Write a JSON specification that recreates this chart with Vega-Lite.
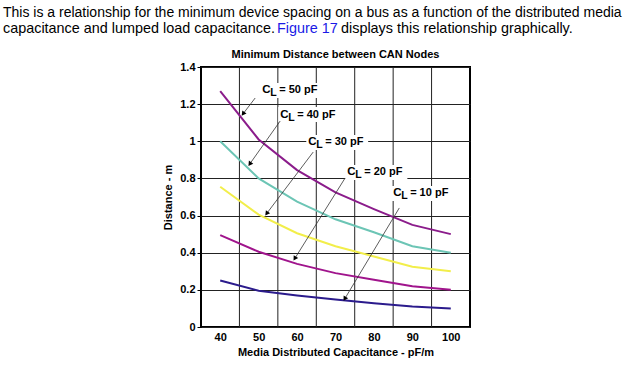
{
  "$schema": "https://vega.github.io/schema/vega-lite/v6.json",
  "autosize": {"type": "none"},
  "padding": {"left": 201, "top": 67, "right": 170, "bottom": 38},
  "width": 269,
  "height": 260,
  "background": "white",
  "config": {
    "font": "Liberation Sans",
    "view": {"stroke": "black", "strokeWidth": 2},
    "axisX": {
      "grid": false,
      "ticks": false,
      "domain": false,
      "labelFont": "Liberation Sans",
      "labelFontSize": 11,
      "labelFontWeight": "bold",
      "labelColor": "black",
      "labelPadding": 4,
      "labelOverlap": false,
      "titleFont": "Liberation Sans",
      "titleFontSize": 11,
      "titleFontWeight": "bold",
      "titleColor": "black",
      "titlePadding": 4
    },
    "axisY": {
      "grid": true,
      "gridColor": "#222222",
      "gridOpacity": 1,
      "gridWidth": 1,
      "ticks": true,
      "tickSize": 4,
      "tickColor": "black",
      "tickWidth": 1,
      "domain": false,
      "labelFont": "Liberation Sans",
      "labelFontSize": 11,
      "labelFontWeight": "bold",
      "labelColor": "black",
      "labelPadding": 2,
      "labelOverlap": false,
      "titleFont": "Liberation Sans",
      "titleFontSize": 11,
      "titleFontWeight": "bold",
      "titleColor": "black",
      "titlePadding": 6
    }
  },
  "datasets": {
    "curves": [
      {"cl": "50 pF", "cd": 40, "dist": 1.27},
      {"cl": "50 pF", "cd": 50, "dist": 1.01},
      {"cl": "50 pF", "cd": 60, "dist": 0.845},
      {"cl": "50 pF", "cd": 70, "dist": 0.725},
      {"cl": "50 pF", "cd": 80, "dist": 0.635},
      {"cl": "50 pF", "cd": 90, "dist": 0.55},
      {"cl": "50 pF", "cd": 100, "dist": 0.5},
      {"cl": "40 pF", "cd": 40, "dist": 1.0},
      {"cl": "40 pF", "cd": 50, "dist": 0.8},
      {"cl": "40 pF", "cd": 60, "dist": 0.675},
      {"cl": "40 pF", "cd": 70, "dist": 0.58},
      {"cl": "40 pF", "cd": 80, "dist": 0.51},
      {"cl": "40 pF", "cd": 90, "dist": 0.435},
      {"cl": "40 pF", "cd": 100, "dist": 0.4},
      {"cl": "30 pF", "cd": 40, "dist": 0.755},
      {"cl": "30 pF", "cd": 50, "dist": 0.605},
      {"cl": "30 pF", "cd": 60, "dist": 0.505},
      {"cl": "30 pF", "cd": 70, "dist": 0.435},
      {"cl": "30 pF", "cd": 80, "dist": 0.38},
      {"cl": "30 pF", "cd": 90, "dist": 0.325},
      {"cl": "30 pF", "cd": 100, "dist": 0.3},
      {"cl": "20 pF", "cd": 40, "dist": 0.495},
      {"cl": "20 pF", "cd": 50, "dist": 0.405},
      {"cl": "20 pF", "cd": 60, "dist": 0.34},
      {"cl": "20 pF", "cd": 70, "dist": 0.29},
      {"cl": "20 pF", "cd": 80, "dist": 0.255},
      {"cl": "20 pF", "cd": 90, "dist": 0.22},
      {"cl": "20 pF", "cd": 100, "dist": 0.2},
      {"cl": "10 pF", "cd": 40, "dist": 0.25},
      {"cl": "10 pF", "cd": 50, "dist": 0.195},
      {"cl": "10 pF", "cd": 60, "dist": 0.17},
      {"cl": "10 pF", "cd": 70, "dist": 0.148},
      {"cl": "10 pF", "cd": 80, "dist": 0.128},
      {"cl": "10 pF", "cd": 90, "dist": 0.11},
      {"cl": "10 pF", "cd": 100, "dist": 0.1}
    ],
    "xgrid": [
      {"cd": 45}, {"cd": 55}, {"cd": 65}, {"cd": 75}, {"cd": 85}, {"cd": 95}
    ],
    "labels": [
      {"cl": "50 pF", "rest": "= 50 pF", "cd": 50.93, "dist": 1.276, "bx1": 50.4, "bx2": 66.5, "by1": 1.233, "by2": 1.314},
      {"cl": "40 pF", "rest": "= 40 pF", "cd": 55.6, "dist": 1.14, "bx1": 55.1, "bx2": 71.2, "by1": 1.104, "by2": 1.185},
      {"cl": "30 pF", "rest": "= 30 pF", "cd": 62.9, "dist": 0.994, "bx1": 62.4, "bx2": 78.5, "by1": 0.953, "by2": 1.034},
      {"cl": "20 pF", "rest": "= 20 pF", "cd": 73.05, "dist": 0.835, "bx1": 72.5, "bx2": 88.7, "by1": 0.791, "by2": 0.872},
      {"cl": "10 pF", "rest": "= 10 pF", "cd": 85.0, "dist": 0.722, "bx1": 84.5, "bx2": 100.6, "by1": 0.678, "by2": 0.759}
    ],
    "arrows": [
      {"cl": "50 pF", "sx": 49.1, "sy": 1.233, "tx": 46.06, "ty": 1.151, "ang": 217},
      {"cl": "40 pF", "sx": 55.6, "sy": 1.109, "tx": 47.8, "ty": 0.881, "ang": 215},
      {"cl": "30 pF", "sx": 64.2, "sy": 0.942, "tx": 52.2, "ty": 0.614, "ang": 217},
      {"cl": "20 pF", "sx": 72.5, "sy": 0.802, "tx": 59.5, "ty": 0.372, "ang": 212},
      {"cl": "10 pF", "sx": 86.6, "sy": 0.641, "tx": 72.5, "ty": 0.155, "ang": 211}
    ]
  },
  "layer": [
    {
      "data": {"name": "xgrid"},
      "mark": {"type": "rule", "color": "#222222", "strokeWidth": 1},
      "encoding": {
        "x": {"field": "cd", "type": "quantitative", "scale": {"domain": [35, 105], "nice": false, "zero": false},
              "axis": {"values": [40, 50, 60, 70, 80, 90, 100], "title": "Media Distributed Capacitance - pF/m"}}
      }
    },
    {
      "data": {"name": "labels"},
      "mark": {"type": "rect", "fill": "white"},
      "encoding": {
        "x": {"field": "bx1", "type": "quantitative", "scale": {"domain": [35, 105], "nice": false, "zero": false},
              "axis": {"values": [40, 50, 60, 70, 80, 90, 100], "title": "Media Distributed Capacitance - pF/m"}},
        "x2": {"field": "bx2"},
        "y": {"field": "by1", "type": "quantitative", "scale": {"domain": [0, 1.4], "nice": false},
              "axis": {"values": [0, 0.2, 0.4, 0.6, 0.8, 1.0, 1.2, 1.4], "format": ".1~f", "title": "Distance - m"}},
        "y2": {"field": "by2"}
      }
    },
    {
      "data": {"name": "curves"},
      "mark": {"type": "line", "strokeWidth": 2},
      "encoding": {
        "x": {"field": "cd", "type": "quantitative", "scale": {"domain": [35, 105], "nice": false, "zero": false},
              "axis": {"values": [40, 50, 60, 70, 80, 90, 100], "title": "Media Distributed Capacitance - pF/m"}},
        "y": {"field": "dist", "type": "quantitative", "scale": {"domain": [0, 1.4], "nice": false},
              "axis": {"values": [0, 0.2, 0.4, 0.6, 0.8, 1.0, 1.2, 1.4], "format": ".1~f", "title": "Distance - m"}},
        "color": {
          "field": "cl",
          "type": "nominal",
          "scale": {
            "domain": ["50 pF", "40 pF", "30 pF", "20 pF", "10 pF"],
            "range": ["#8B1C8B", "#6CC5B5", "#F2EE4A", "#A0148C", "#2B1B8C"]
          },
          "legend": null
        }
      }
    },
    {
      "data": {"name": "arrows"},
      "mark": {"type": "rule", "color": "#333333", "strokeWidth": 0.8},
      "encoding": {
        "x": {"field": "sx", "type": "quantitative", "scale": {"domain": [35, 105], "nice": false, "zero": false},
              "axis": {"values": [40, 50, 60, 70, 80, 90, 100], "title": "Media Distributed Capacitance - pF/m"}},
        "y": {"field": "sy", "type": "quantitative", "scale": {"domain": [0, 1.4], "nice": false},
              "axis": {"values": [0, 0.2, 0.4, 0.6, 0.8, 1.0, 1.2, 1.4], "format": ".1~f", "title": "Distance - m"}},
        "x2": {"field": "tx"},
        "y2": {"field": "ty"}
      }
    },
    {
      "data": {"name": "arrows"},
      "mark": {"type": "point", "shape": "triangle", "filled": true, "color": "black", "opacity": 1, "size": 28},
      "encoding": {
        "x": {"field": "tx", "type": "quantitative", "scale": {"domain": [35, 105], "nice": false, "zero": false},
              "axis": {"values": [40, 50, 60, 70, 80, 90, 100], "title": "Media Distributed Capacitance - pF/m"}},
        "y": {"field": "ty", "type": "quantitative", "scale": {"domain": [0, 1.4], "nice": false},
              "axis": {"values": [0, 0.2, 0.4, 0.6, 0.8, 1.0, 1.2, 1.4], "format": ".1~f", "title": "Distance - m"}},
        "angle": {"field": "ang", "type": "quantitative", "scale": null}
      }
    },
    {
      "data": {"name": "labels"},
      "mark": {"type": "text", "text": "C", "align": "left", "baseline": "middle", "font": "Liberation Sans", "fontSize": 11.5, "fontWeight": "bold", "color": "black"},
      "encoding": {
        "x": {"field": "cd", "type": "quantitative", "scale": {"domain": [35, 105], "nice": false, "zero": false},
              "axis": {"values": [40, 50, 60, 70, 80, 90, 100], "title": "Media Distributed Capacitance - pF/m"}},
        "y": {"field": "dist", "type": "quantitative", "scale": {"domain": [0, 1.4], "nice": false},
              "axis": {"values": [0, 0.2, 0.4, 0.6, 0.8, 1.0, 1.2, 1.4], "format": ".1~f", "title": "Distance - m"}}
      }
    },
    {
      "data": {"name": "labels"},
      "mark": {"type": "text", "text": "L", "align": "left", "baseline": "middle", "dx": 8, "dy": 3, "font": "Liberation Sans", "fontSize": 10.5, "fontWeight": "bold", "color": "black"},
      "encoding": {
        "x": {"field": "cd", "type": "quantitative", "scale": {"domain": [35, 105], "nice": false, "zero": false},
              "axis": {"values": [40, 50, 60, 70, 80, 90, 100], "title": "Media Distributed Capacitance - pF/m"}},
        "y": {"field": "dist", "type": "quantitative", "scale": {"domain": [0, 1.4], "nice": false},
              "axis": {"values": [0, 0.2, 0.4, 0.6, 0.8, 1.0, 1.2, 1.4], "format": ".1~f", "title": "Distance - m"}}
      }
    },
    {
      "data": {"name": "labels"},
      "mark": {"type": "text", "align": "left", "baseline": "middle", "dx": 17, "font": "Liberation Sans", "fontSize": 11, "fontWeight": "bold", "color": "black"},
      "encoding": {
        "x": {"field": "cd", "type": "quantitative", "scale": {"domain": [35, 105], "nice": false, "zero": false},
              "axis": {"values": [40, 50, 60, 70, 80, 90, 100], "title": "Media Distributed Capacitance - pF/m"}},
        "y": {"field": "dist", "type": "quantitative", "scale": {"domain": [0, 1.4], "nice": false},
              "axis": {"values": [0, 0.2, 0.4, 0.6, 0.8, 1.0, 1.2, 1.4], "format": ".1~f", "title": "Distance - m"}},
        "text": {"field": "rest"}
      }
    },
    {
      "data": {"values": [{"t": "Minimum Distance between CAN Nodes"}]},
      "mark": {"type": "text", "align": "center", "baseline": "alphabetic", "font": "Liberation Sans", "fontSize": 11, "fontWeight": "bold", "color": "black", "x": 134.5, "y": -9},
      "encoding": {"text": {"field": "t"}}
    },
    {
      "data": {"values": [{"t": "This is a relationship for the minimum device spacing on a bus as a function of the distributed media"}]},
      "mark": {"type": "text", "align": "left", "baseline": "alphabetic", "font": "Liberation Sans", "fontSize": 14, "color": "black", "x": -198, "y": -50},
      "encoding": {"text": {"field": "t"}}
    },
    {
      "data": {"values": [{"t": "capacitance and lumped load capacitance."}]},
      "mark": {"type": "text", "align": "left", "baseline": "alphabetic", "font": "Liberation Sans", "fontSize": 14.4, "color": "black", "x": -198, "y": -34},
      "encoding": {"text": {"field": "t"}}
    },
    {
      "data": {"values": [{"t": "Figure 17"}]},
      "mark": {"type": "text", "align": "left", "baseline": "alphabetic", "font": "Liberation Sans", "fontSize": 14.4, "color": "#1A1AE6", "x": 76, "y": -34},
      "encoding": {"text": {"field": "t"}}
    },
    {
      "data": {"values": [{"t": "displays this relationship graphically."}]},
      "mark": {"type": "text", "align": "left", "baseline": "alphabetic", "font": "Liberation Sans", "fontSize": 14.4, "color": "black", "x": 140, "y": -34},
      "encoding": {"text": {"field": "t"}}
    }
  ]
}
